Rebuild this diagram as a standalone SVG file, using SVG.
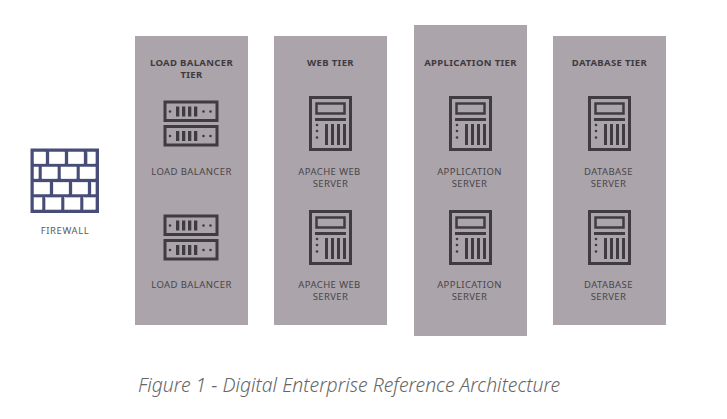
<svg xmlns="http://www.w3.org/2000/svg" xmlns:xlink="http://www.w3.org/1999/xlink" width="727" height="419" viewBox="0 0 727 419">
<style>
text{font-family:"Noto Sans","Open Sans",sans-serif;text-anchor:middle}
.tier{fill:#aba4aa}
.h{font-size:9.500px;font-weight:700;fill:#3f3a40;letter-spacing:.35px}
.l{font-size:9.500px;fill:#4a454b;letter-spacing:.4px}
.o{fill:none;stroke:#403b41;stroke-width:3}
.f{fill:#403b41}
.cap{font-size:19.400px;font-style:italic;font-weight:300;fill:#666}
</style>
<defs>
<g id="lb">
<rect class="o" x="1.500" y="1.500" width="52" height="18.500"/>
<rect class="f" x="12.500" y="6" width="3.300" height="10"/><rect class="f" x="18.500" y="6" width="3.300" height="10"/><rect class="f" x="24.500" y="6" width="3.300" height="10"/><rect class="f" x="30.500" y="6" width="3.300" height="10"/>
<circle class="f" cx="6.500" cy="11" r="1.300"/><circle class="f" cx="40" cy="11" r="1.300"/><circle class="f" cx="47" cy="11" r="1.300"/>
</g>
<g id="lbs"><use xlink:href="#lb" href="#lb"/><use xlink:href="#lb" href="#lb" y="24.500"/></g>
<g id="srv">
<rect class="o" x="1.500" y="1.500" width="40" height="52"/>
<rect class="o" x="7.500" y="7.500" width="28" height="10" style="stroke-width:2.500"/>
<rect class="f" x="6" y="22" width="31" height="3"/>
<rect class="f" x="16" y="28" width="3" height="21"/><rect class="f" x="22" y="28" width="3" height="21"/><rect class="f" x="28" y="28" width="3" height="21"/><rect class="f" x="34" y="28" width="3" height="21"/>
<circle class="f" cx="8" cy="29" r="1.300"/><circle class="f" cx="8" cy="35" r="1.300"/><circle class="f" cx="8" cy="41.500" r="1.300"/>
</g>
</defs>
<g id="firewall">
<rect x="30.500" y="148.500" width="68.500" height="64.500" fill="#484d78"/>
<g fill="#fff" stroke="#fff" stroke-width=".5">
<rect x="34" y="152" width="11.700" height="11.700"/><rect x="49.300" y="152" width="15.400" height="11.700"/><rect x="68.300" y="152" width="15.400" height="11.700"/><rect x="87.700" y="152" width="7.600" height="11.700"/>
<rect x="34" y="167" width="4.300" height="11.700"/><rect x="42" y="167" width="15.300" height="11.700"/><rect x="61" y="167" width="15.300" height="11.700"/><rect x="80" y="167" width="15.300" height="11.700"/>
<rect x="34" y="182.300" width="15.700" height="11.700"/><rect x="53.300" y="182.300" width="15.400" height="11.700"/><rect x="72.300" y="182.300" width="15.400" height="11.700"/><rect x="91.300" y="182.300" width="4" height="11.700"/>
<rect x="34" y="197.700" width="8" height="11.700"/><rect x="45.700" y="197.700" width="15.300" height="11.700"/><rect x="64.700" y="197.700" width="15.300" height="11.700"/><rect x="83.700" y="197.700" width="11.600" height="11.700"/>
</g>
<text class="l" x="65" y="234" style="fill:#5c5c5c;letter-spacing:.6px">FIREWALL</text>
</g>
<g id="connectors"></g>
<g id="load-balancer-tier">
<rect class="tier" x="135" y="36" width="113" height="289"/>
<text class="h" x="191.500" y="66">LOAD BALANCER</text><text class="h" x="191.500" y="78">TIER</text>
<use xlink:href="#lbs" href="#lbs" x="163.500" y="100.500"/>
<text class="l" x="191.500" y="175">LOAD BALANCER</text>
<use xlink:href="#lbs" href="#lbs" x="163.500" y="214.500"/>
<text class="l" x="191.500" y="288">LOAD BALANCER</text>
</g>
<g id="web-tier">
<rect class="tier" x="274" y="36" width="113" height="289"/>
<text class="h" x="330.500" y="66">WEB TIER</text>
<use xlink:href="#srv" href="#srv" x="309" y="96"/>
<text class="l" x="329.500" y="175">APACHE WEB</text><text class="l" x="330.500" y="187">SERVER</text>
<use xlink:href="#srv" href="#srv" x="309" y="210"/>
<text class="l" x="329.500" y="288">APACHE WEB</text><text class="l" x="330.500" y="300">SERVER</text>
</g>
<g id="application-tier">
<rect class="tier" x="414" y="25" width="113" height="311"/>
<text class="h" x="470.500" y="66">APPLICATION TIER</text>
<use xlink:href="#srv" href="#srv" x="449" y="96"/>
<text class="l" x="469.500" y="175">APPLICATION</text><text class="l" x="469.500" y="187">SERVER</text>
<use xlink:href="#srv" href="#srv" x="449" y="210"/>
<text class="l" x="469.500" y="288">APPLICATION</text><text class="l" x="469.500" y="300">SERVER</text>
</g>
<g id="database-tier">
<rect class="tier" x="553" y="36" width="113" height="289"/>
<text class="h" x="609.500" y="66">DATABASE TIER</text>
<use xlink:href="#srv" href="#srv" x="588" y="96"/>
<text class="l" x="608.500" y="175">DATABASE</text><text class="l" x="608.500" y="187">SERVER</text>
<use xlink:href="#srv" href="#srv" x="588" y="210"/>
<text class="l" x="608.500" y="288">DATABASE</text><text class="l" x="608.500" y="300">SERVER</text>
</g>
<text class="cap" x="349" y="392">Figure 1 - Digital Enterprise Reference Architecture</text>
</svg>
